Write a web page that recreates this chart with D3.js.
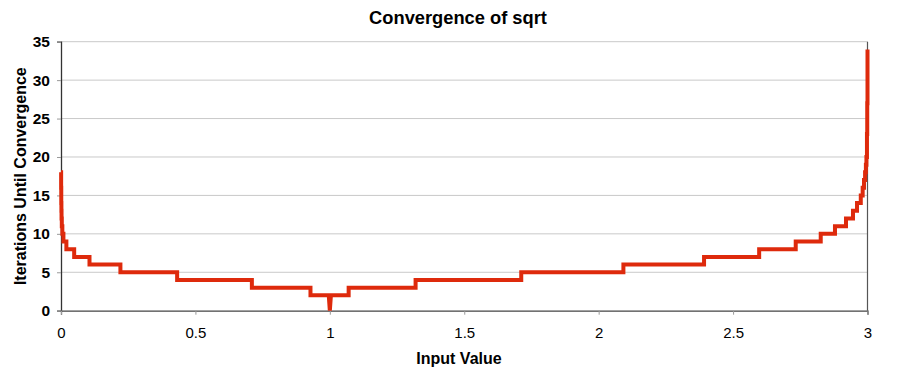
<!DOCTYPE html>
<html>
<head>
<meta charset="utf-8">
<script src="https://cdn.jsdelivr.net/npm/d3@7"></script>
<style>
  html, body { margin: 0; padding: 0; background: #fff; }
  svg { display: block; font-family: "Liberation Sans", Arial, sans-serif; }
</style>
</head>
<body>
<svg id="chart" width="900" height="374"></svg>
<script>
// Each constant level: input value where it starts, where it ends, and the iteration count
const levelStarts = [0, 0.0005, 0.001, 0.0015, 0.002, 0.003, 0.005, 0.009, 0.02, 0.049, 0.106, 0.221, 0.432, 0.71, 0.928, 1.0, 1.004, 1.07, 1.319, 1.712, 2.092, 2.392, 2.597, 2.733, 2.826, 2.879, 2.920, 2.946, 2.961, 2.975, 2.982, 2.987, 2.991, 2.994, 2.996, 2.998, 2.999, 3.0];
const levelEnds   = [0.0005, 0.001, 0.0015, 0.002, 0.003, 0.005, 0.009, 0.02, 0.049, 0.106, 0.221, 0.432, 0.71, 0.928, 0.996, 1.0, 1.07, 1.319, 1.712, 2.092, 2.392, 2.597, 2.733, 2.826, 2.879, 2.920, 2.946, 2.961, 2.975, 2.982, 2.987, 2.991, 2.994, 2.996, 2.998, 2.999, 3.0, 3.0];
const iterations  = [18, 16, 14, 13, 12, 11, 10, 9, 8, 7, 6, 5, 4, 3, 2, 0, 2, 3, 4, 5, 6, 7, 8, 9, 10, 11, 12, 13, 14, 15, 16, 17, 18, 19, 20, 23, 27, 34];
const xTicks = [0, 0.5, 1, 1.5, 2, 2.5, 3];
const xTickLabels = ["0", "0.5", "1", "1.5", "2", "2.5", "3"];
const yTicks = [0, 5, 10, 15, 20, 25, 30, 35];
const titleText = "Convergence of sqrt";
const xTitle = "Input Value";
const yTitle = "Iterations Until Convergence";

(function () {
const svg = d3.select("#chart");
const mLeft = 61, mRight = 867.5, mTop = 41.7, mBottom = 310.7;

const x = d3.scaleLinear().domain([0, 3]).range([mLeft, mRight]);
const y = d3.scaleLinear().domain([0, 35]).range([mBottom, mTop]);

// grid lines
svg.append("g").selectAll("line").data(yTicks.filter(d => d > 0)).join("line")
  .attr("x1", mLeft).attr("x2", mRight)
  .attr("y1", d => y(d)).attr("y2", d => y(d))
  .attr("stroke", "#c9c9c9").attr("stroke-width", 1);

// right border
svg.append("line").attr("x1", mRight).attr("x2", mRight).attr("y1", mTop).attr("y2", mBottom)
  .attr("stroke", "#555").attr("stroke-width", 1.2);

// y axis
const yAxis = svg.append("g").attr("transform", `translate(${mLeft},0)`)
  .call(d3.axisLeft(y).tickValues(yTicks).tickSize(4).tickPadding(7).tickFormat(d3.format("d")));
yAxis.select(".domain").attr("stroke", "#333").attr("stroke-width", 1.3);
yAxis.selectAll(".tick line").attr("stroke", "#999");
yAxis.selectAll(".tick text").attr("font-size", 15.5).attr("font-weight", "bold")
  .attr("fill", "#000").attr("font-family", "Liberation Sans, Arial, sans-serif");

// x axis
const xAxis = svg.append("g").attr("transform", `translate(0,${mBottom})`)
  .call(d3.axisBottom(x).tickValues(xTicks).tickSize(4).tickPadding(13)
    .tickFormat((d, i) => xTickLabels[i]));
xAxis.select(".domain").attr("stroke", "#444").attr("stroke-width", 1.3);
xAxis.selectAll(".tick line").attr("stroke", "#999");
xAxis.selectAll(".tick text").attr("font-size", 15)
  .attr("fill", "#000").attr("font-family", "Liberation Sans, Arial, sans-serif");

// the data line: each level drawn from its start to its end, then joined to the next level
const pts = [];
iterations.forEach((v, i) => {
  pts.push([levelStarts[i], v]);
  if (levelEnds[i] !== levelStarts[i]) pts.push([levelEnds[i], v]);
});
const line = d3.line().x(d => x(d[0])).y(d => y(d[1])).curve(d3.curveLinear);
svg.append("path").datum(pts)
  .attr("d", line)
  .attr("fill", "none")
  .attr("stroke", "#de2a0c")
  .attr("stroke-width", 4)
  .attr("stroke-linejoin", "miter")
  .attr("stroke-miterlimit", 4);

// titles
svg.append("text").attr("x", 458).attr("y", 24)
  .attr("text-anchor", "middle").attr("font-size", 18.3).attr("font-weight", "bold")
  .text(titleText);
svg.append("text").attr("x", 459).attr("y", 364)
  .attr("text-anchor", "middle").attr("font-size", 16).attr("font-weight", "bold")
  .text(xTitle);
svg.append("text").attr("transform", `translate(26,${(mTop + mBottom) / 2}) rotate(-90)`)
  .attr("text-anchor", "middle").attr("font-size", 16).attr("font-weight", "bold")
  .text(yTitle);
})();
</script>
</body>
</html>
